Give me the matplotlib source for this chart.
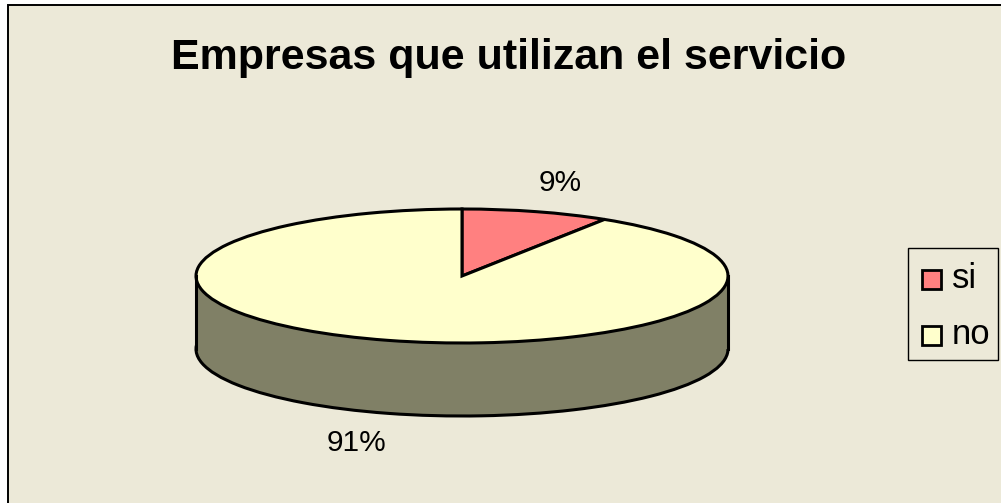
import matplotlib
matplotlib.use("Agg")
import matplotlib.pyplot as plt
from matplotlib.patches import Rectangle

title = "Empresas que utilizan el servicio"
categories = ["si", "no"]
values = [9, 91]
value_labels = ["9%", "91%"]
colors = ["#FF8080", "#FFFFCC"]
side_color = "#808066"
bg_color = "#ECE9D8"

W, H = 1001, 503
plt.rcParams['font.family'] = ['Liberation Sans', 'DejaVu Sans']

fig = plt.figure(figsize=(W / 100, H / 100), dpi=100, facecolor="white")

# panel background with the dark top/left edge
fig.patches.append(Rectangle((7.5 / W, -0.01), 1.01, 1.01 - 4.5 / H, transform=fig.transFigure,
                             facecolor=bg_color, edgecolor="black", linewidth=1.4, zorder=-5))

# pie is squashed, top ellipse 134px high, 73px of depth below it
depth = 73 / 67
ax = fig.add_axes([196 / W, (H - 416) / H, 532 / W, 207 / H])

# bottom face, wall, then top face
ax.pie(values, center=(0, -depth), startangle=90, counterclock=False, colors=[side_color] * 2,
       wedgeprops=dict(edgecolor="black", linewidth=2.2), radius=1, frame=True)
ax.add_patch(Rectangle((-1, -depth), 2, depth, facecolor=side_color, edgecolor="none"))
ax.add_patch(Rectangle((-0.99, -depth - 0.1), 1.98, 0.2, facecolor=side_color, edgecolor="none"))
ax.plot([-1, -1], [-depth, 0], color="black", lw=2.2)
ax.plot([1, 1], [-depth, 0], color="black", lw=2.2)
wedges, _ = ax.pie(values, startangle=90, counterclock=False, colors=colors,
                   wedgeprops=dict(edgecolor="black", linewidth=2.2, joinstyle="miter"), radius=1, frame=True)
ax.set_aspect("auto")
ax.set_xlim(-1, 1)
ax.set_ylim(-1 - depth, 1)
ax.axis("off")
for a in ax.get_children():
    a.set_clip_on(False)

fig.text(509 / W, 1 - 58 / H, title, ha="center", va="center", fontsize=31, fontweight="bold", color="black")
fig.text(560 / W, 1 - 183 / H, value_labels[0], ha="center", va="center", fontsize=21.5, color="black")
fig.text(356 / W, 1 - 443 / H, value_labels[1], ha="center", va="center", fontsize=21.5, color="black")

# legend box, placed by hand to hit the original pixel box
fig.patches.append(Rectangle((908 / W, 1 - 360 / H), 90 / W, 112 / H, transform=fig.transFigure,
                             facecolor=bg_color, edgecolor="black", linewidth=1.0))
for i, (cat, col) in enumerate(zip(categories, colors)):
    yc = 279 + i * 56
    fig.patches.append(Rectangle((922 / W, 1 - (yc + 9.5) / H), 19 / W, 19 / H, transform=fig.transFigure,
                                 facecolor=col, edgecolor="black", linewidth=2.0))
    fig.text(952 / W, 1 - (yc + 9) / H, cat, ha="left", va="baseline", fontsize=25, color="black")

fig.savefig("out.png", dpi=100, facecolor=fig.get_facecolor())
